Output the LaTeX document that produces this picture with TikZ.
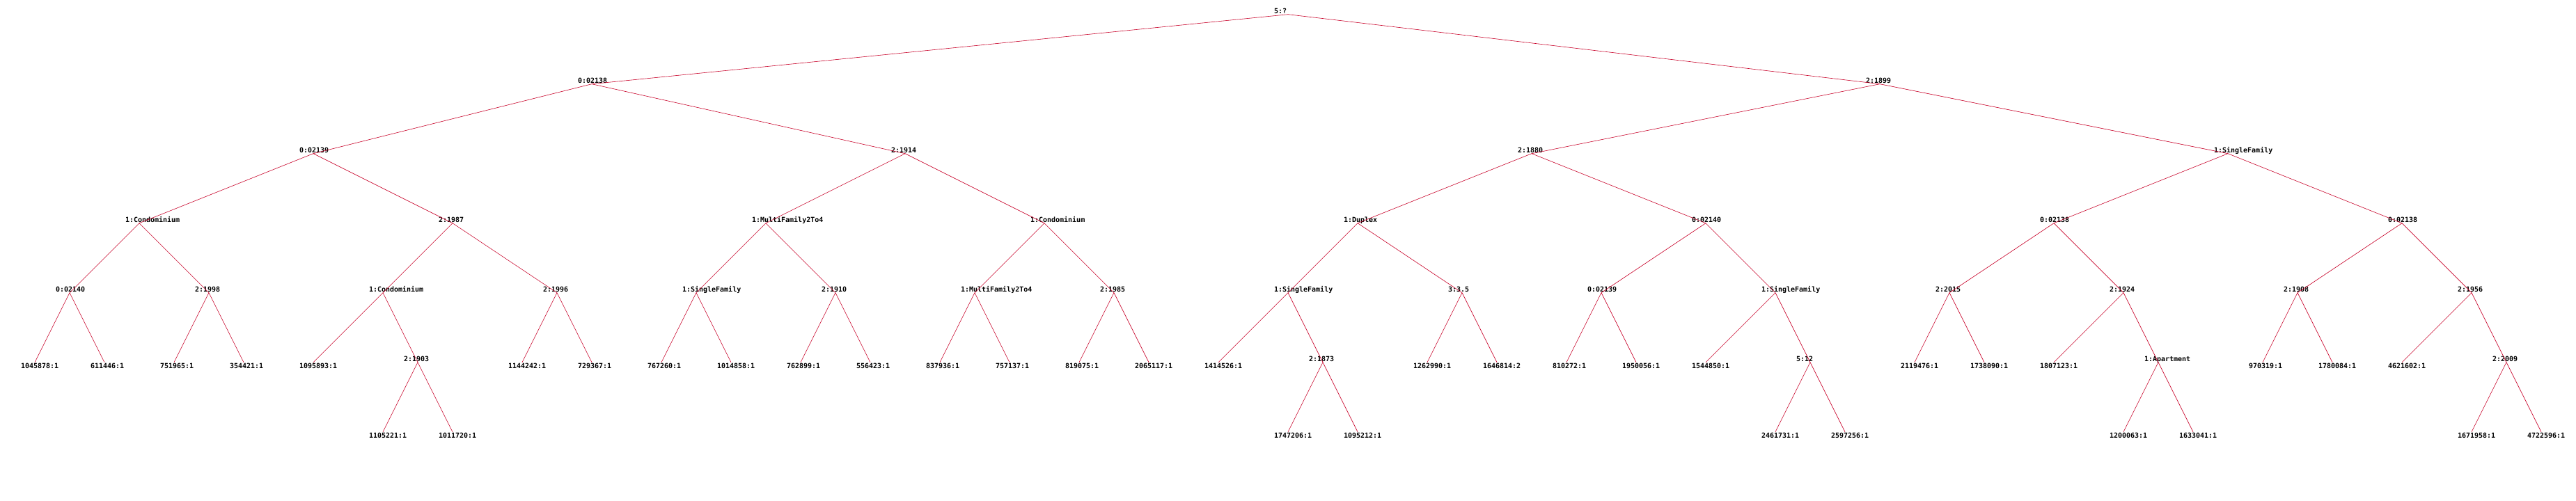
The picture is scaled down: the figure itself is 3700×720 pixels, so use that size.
\documentclass[tikz,border=0pt]{standalone}
\usepackage{fontspec}
\newfontfamily\labfont{DejaVu Sans Mono}
\definecolor{edgered}{RGB}{200,0,40}
\tikzset{
  lab/.style={font=\labfont\bfseries\fontsize{10}{12}\selectfont, inner sep=0pt, outer sep=0pt, anchor=base west, text=black},
  edge/.style={draw=edgered, line width=0.6pt}
}
% internal node: name, x, depth, text
\newcommand{\inode}[4]{%
  \coordinate (#1) at (#2,{20.7+100*#3});
  \node[lab] (#1-t) at ({#2-20},{19.2+100*#3}) {#4};}
% leaf node: name, x, depth, text
\newcommand{\lnode}[4]{%
  \coordinate (#1) at (#2,{20.7+100*#3});
  \node[lab] (#1-t) at ({#2-20},{29.2+100*#3}) {#4};}
\begin{document}
\begin{tikzpicture}[x=1pt,y=-1pt]
\fill[white] (0,0) rectangle (3700,720);
\useasboundingbox (0,0) rectangle (3700,720);
% depth 0-2
\inode{r}{1850}{0}{5:?}
\inode{a}{850}{1}{0:02138}
\inode{b}{2700}{1}{2:1899}
\inode{aa}{450}{2}{0:02139}
\inode{ab}{1300}{2}{2:1914}
\inode{ba}{2200}{2}{2:1880}
\inode{bb}{3200}{2}{1:SingleFamily}
% depth 3
\inode{aaa}{200}{3}{1:Condominium}
\inode{aab}{650}{3}{2:1987}
\inode{aba}{1100}{3}{1:MultiFamily2To4}
\inode{abb}{1500}{3}{1:Condominium}
\inode{baa}{1950}{3}{1:Duplex}
\inode{bab}{2450}{3}{0:02140}
\inode{bba}{2950}{3}{0:02138}
\inode{bbb}{3450}{3}{0:02138}
% depth 4
\inode{aaaa}{100}{4}{0:02140}
\inode{aaab}{300}{4}{2:1998}
\inode{aaba}{550}{4}{1:Condominium}
\inode{aabb}{800}{4}{2:1996}
\inode{abaa}{1000}{4}{1:SingleFamily}
\inode{abab}{1200}{4}{2:1910}
\inode{abba}{1400}{4}{1:MultiFamily2To4}
\inode{abbb}{1600}{4}{2:1985}
\inode{baaa}{1850}{4}{1:SingleFamily}
\inode{baab}{2100}{4}{3:3.5}
\inode{baba}{2300}{4}{0:02139}
\inode{babb}{2550}{4}{1:SingleFamily}
\inode{bbaa}{2800}{4}{2:2015}
\inode{bbab}{3050}{4}{2:1924}
\inode{bbba}{3300}{4}{2:1908}
\inode{bbbb}{3550}{4}{2:1956}
% depth 5 internal
\inode{n1903}{600}{5}{2:1903}
\inode{n1873}{1900}{5}{2:1873}
\inode{n512}{2600}{5}{5:12}
\inode{napt}{3100}{5}{1:Apartment}
\inode{n2009}{3600}{5}{2:2009}
% leaves depth 5
\lnode{l0}{50}{5}{1045878:1}
\lnode{l1}{150}{5}{611446:1}
\lnode{l2}{250}{5}{751965:1}
\lnode{l3}{350}{5}{354421:1}
\lnode{l4}{450}{5}{1095893:1}
\lnode{l7}{750}{5}{1144242:1}
\lnode{l8}{850}{5}{729367:1}
\lnode{l9}{950}{5}{767260:1}
\lnode{l10}{1050}{5}{1014858:1}
\lnode{l11}{1150}{5}{762899:1}
\lnode{l12}{1250}{5}{556423:1}
\lnode{l13}{1350}{5}{837936:1}
\lnode{l14}{1450}{5}{757137:1}
\lnode{l15}{1550}{5}{819075:1}
\lnode{l16}{1650}{5}{2065117:1}
\lnode{l17}{1750}{5}{1414526:1}
\lnode{l20}{2050}{5}{1262990:1}
\lnode{l21}{2150}{5}{1646814:2}
\lnode{l22}{2250}{5}{810272:1}
\lnode{l23}{2350}{5}{1950056:1}
\lnode{l24}{2450}{5}{1544850:1}
\lnode{l27}{2750}{5}{2119476:1}
\lnode{l28}{2850}{5}{1738090:1}
\lnode{l29}{2950}{5}{1807123:1}
\lnode{l32}{3250}{5}{970319:1}
\lnode{l33}{3350}{5}{1780084:1}
\lnode{l34}{3450}{5}{4621602:1}
% leaves depth 6
\lnode{l5}{550}{6}{1105221:1}
\lnode{l6}{650}{6}{1011720:1}
\lnode{l18}{1850}{6}{1747206:1}
\lnode{l19}{1950}{6}{1095212:1}
\lnode{l25}{2550}{6}{2461731:1}
\lnode{l26}{2650}{6}{2597256:1}
\lnode{l30}{3050}{6}{1200063:1}
\lnode{l31}{3150}{6}{1633041:1}
\lnode{l35}{3550}{6}{1671958:1}
\lnode{l36}{3650}{6}{4722596:1}
% edges
\foreach \p/\c in {r/a,r/b,a/aa,a/ab,b/ba,b/bb,
  aa/aaa,aa/aab,ab/aba,ab/abb,ba/baa,ba/bab,bb/bba,bb/bbb,
  aaa/aaaa,aaa/aaab,aab/aaba,aab/aabb,aba/abaa,aba/abab,abb/abba,abb/abbb,
  baa/baaa,baa/baab,bab/baba,bab/babb,bba/bbaa,bba/bbab,bbb/bbba,bbb/bbbb,
  aaaa/l0,aaaa/l1,aaab/l2,aaab/l3,aaba/l4,aaba/n1903,n1903/l5,n1903/l6,aabb/l7,aabb/l8,
  abaa/l9,abaa/l10,abab/l11,abab/l12,abba/l13,abba/l14,abbb/l15,abbb/l16,
  baaa/l17,baaa/n1873,n1873/l18,n1873/l19,baab/l20,baab/l21,baba/l22,baba/l23,
  babb/l24,babb/n512,n512/l25,n512/l26,
  bbaa/l27,bbaa/l28,bbab/l29,bbab/napt,napt/l30,napt/l31,
  bbba/l32,bbba/l33,bbbb/l34,bbbb/n2009,n2009/l35,n2009/l36}
  \draw[edge] (\p) -- (\c);
\end{tikzpicture}
\end{document}
